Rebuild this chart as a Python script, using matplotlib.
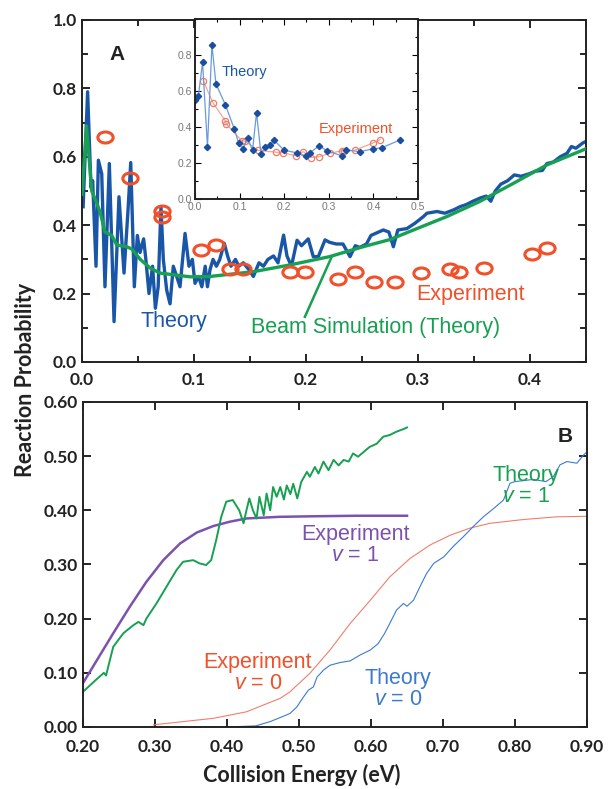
import numpy as np
import matplotlib.pyplot as plt
import matplotlib.path as mpath
from matplotlib.transforms import Affine2D
from matplotlib.ticker import MultipleLocator, FormatStrFormatter

# ---------------- panel A data ----------------
a_theory_x = [0.001, 0.005, 0.008, 0.0095, 0.0125, 0.0146, 0.0176, 0.0205, 0.0244, 0.0286,
              0.033, 0.0375, 0.041, 0.0435, 0.0467, 0.0494, 0.0518, 0.055, 0.057, 0.0598,
              0.063, 0.0655, 0.068, 0.0705, 0.0726, 0.0756, 0.0786, 0.0815, 0.0845, 0.0875,
              0.092, 0.0955, 0.0985, 0.1009, 0.104, 0.107, 0.110, 0.112, 0.1143, 0.117,
              0.120, 0.123, 0.127, 0.130, 0.133, 0.137, 0.140, 0.144, 0.149, 0.153,
              0.158, 0.162, 0.166, 0.171, 0.175, 0.180, 0.183, 0.187, 0.192, 0.196,
              0.202, 0.2065, 0.211, 0.217, 0.221, 0.227, 0.233, 0.2393, 0.244, 0.248,
              0.254, 0.258, 0.269, 0.274, 0.278, 0.282, 0.290, 0.297, 0.3048, 0.308,
              0.317, 0.324, 0.332, 0.3375, 0.343, 0.349, 0.356, 0.361, 0.365, 0.369,
              0.374, 0.380, 0.386, 0.392, 0.399, 0.405, 0.411, 0.415, 0.421, 0.427,
              0.433, 0.437, 0.441, 0.447, 0.45]
a_theory_y = [0.454, 0.79, 0.51, 0.53, 0.28, 0.59, 0.55, 0.22, 0.58, 0.118,
              0.483, 0.26, 0.44, 0.583, 0.22, 0.37, 0.32, 0.36, 0.30, 0.20,
              0.28, 0.157, 0.22, 0.454, 0.30, 0.21, 0.17, 0.28, 0.25, 0.22,
              0.376, 0.28, 0.30, 0.23, 0.25, 0.22, 0.28, 0.22, 0.27, 0.30,
              0.28, 0.30, 0.347, 0.31, 0.28, 0.30, 0.28, 0.29, 0.27, 0.25,
              0.29, 0.28, 0.30, 0.31, 0.29, 0.371, 0.31, 0.28, 0.356, 0.34,
              0.36, 0.308, 0.308, 0.357, 0.35, 0.345, 0.345, 0.308, 0.34, 0.335,
              0.345, 0.37, 0.386, 0.38, 0.337, 0.386, 0.39, 0.405, 0.425, 0.435,
              0.44, 0.435, 0.445, 0.454, 0.46, 0.47, 0.48, 0.485, 0.47, 0.50,
              0.52, 0.53, 0.547, 0.543, 0.55, 0.558, 0.56, 0.58, 0.585, 0.60,
              0.61, 0.63, 0.625, 0.64, 0.645]

a_beam_x = [0.0, 0.004, 0.0087, 0.0125, 0.016, 0.0205, 0.0265, 0.031, 0.040, 0.0446,
            0.052, 0.0607, 0.0696, 0.082, 0.0964, 0.114, 0.153, 0.186, 0.221, 0.251,
            0.275, 0.296, 0.3256, 0.355, 0.385, 0.415, 0.449]
a_beam_y = [0.49, 0.69, 0.50, 0.47, 0.44, 0.38, 0.37, 0.342, 0.337, 0.33,
            0.30, 0.275, 0.26, 0.255, 0.249, 0.25, 0.264, 0.284, 0.308, 0.337,
            0.358, 0.386, 0.425, 0.469, 0.522, 0.576, 0.622]

a_exp_x = [0.0205, 0.043, 0.071, 0.071, 0.106, 0.12, 0.132, 0.144, 0.186, 0.199,
           0.2285, 0.244, 0.261, 0.2795, 0.3025, 0.329, 0.3366, 0.359, 0.402, 0.415]
a_exp_y = [0.658, 0.538, 0.44, 0.425, 0.327, 0.342, 0.272, 0.272, 0.263, 0.263,
           0.242, 0.264, 0.235, 0.235, 0.261, 0.271, 0.264, 0.274, 0.315, 0.333]

# inset data
in_theory_x = [0.0, 0.0075, 0.017, 0.028, 0.038, 0.047, 0.068, 0.088, 0.098, 0.108,
               0.118, 0.129, 0.138, 0.148, 0.158, 0.168, 0.178, 0.20, 0.228, 0.248,
               0.258, 0.278, 0.297, 0.329, 0.339, 0.37, 0.398, 0.419, 0.46]
in_theory_y = [0.55, 0.57, 0.76, 0.29, 0.855, 0.64, 0.524, 0.39, 0.31, 0.28,
               0.34, 0.27, 0.48, 0.248, 0.29, 0.30, 0.325, 0.27, 0.257, 0.24,
               0.257, 0.295, 0.267, 0.24, 0.272, 0.263, 0.278, 0.285, 0.328]
in_exp_x = [0.019, 0.04, 0.068, 0.07, 0.105, 0.113, 0.142, 0.182, 0.198, 0.226,
            0.243, 0.259, 0.278, 0.303, 0.329, 0.334, 0.359, 0.398, 0.415]
in_exp_y = [0.655, 0.535, 0.435, 0.417, 0.324, 0.32, 0.27, 0.26, 0.257, 0.24,
            0.263, 0.23, 0.235, 0.254, 0.268, 0.265, 0.272, 0.31, 0.33]

# ---------------- panel B data ----------------
b_exp1_x = [0.20, 0.242, 0.265, 0.288, 0.3115, 0.335, 0.358, 0.381, 0.404, 0.427,
            0.473, 0.52, 0.58, 0.65]
b_exp1_y = [0.081, 0.173, 0.222, 0.268, 0.308, 0.339, 0.359, 0.371, 0.379, 0.385,
            0.388, 0.389, 0.39, 0.39]

b_th1_x = [0.20, 0.218, 0.229, 0.232, 0.242, 0.256, 0.27, 0.277, 0.284, 0.288,
           0.302, 0.316, 0.33, 0.339, 0.353, 0.362, 0.371, 0.378, 0.385, 0.392,
           0.399, 0.408, 0.417, 0.423, 0.427, 0.431, 0.436, 0.441, 0.445, 0.451,
           0.455, 0.46, 0.464, 0.469, 0.474, 0.479, 0.483, 0.488, 0.492, 0.4976,
           0.503, 0.511, 0.515, 0.522, 0.527, 0.534, 0.541, 0.548, 0.555, 0.562,
           0.569, 0.575, 0.582, 0.59, 0.598, 0.608, 0.617, 0.626, 0.635, 0.647, 0.65]
b_th1_y = [0.065, 0.087, 0.10, 0.095, 0.148, 0.173, 0.188, 0.194, 0.188, 0.20,
           0.228, 0.259, 0.29, 0.305, 0.308, 0.302, 0.299, 0.308, 0.345, 0.388,
           0.416, 0.419, 0.40, 0.376, 0.40, 0.422, 0.40, 0.385, 0.425, 0.391,
           0.431, 0.40, 0.443, 0.425, 0.443, 0.42, 0.446, 0.43, 0.449, 0.422,
           0.452, 0.471, 0.462, 0.48, 0.468, 0.49, 0.474, 0.493, 0.483, 0.493,
           0.49, 0.505, 0.499, 0.508, 0.517, 0.523, 0.536, 0.539, 0.545, 0.551, 0.553]

b_exp0_x = [0.298, 0.381, 0.427, 0.474, 0.4875, 0.515, 0.543, 0.571, 0.599, 0.626,
            0.654, 0.682, 0.71, 0.737, 0.765, 0.8115, 0.858, 0.90]
b_exp0_y = [0.004, 0.016, 0.028, 0.053, 0.065, 0.099, 0.142, 0.191, 0.234, 0.277,
            0.311, 0.336, 0.354, 0.367, 0.376, 0.383, 0.388, 0.389]

b_th0_x = [0.40, 0.44, 0.46, 0.475, 0.4875, 0.497, 0.506, 0.513, 0.52, 0.525,
           0.534, 0.543, 0.557, 0.571, 0.585, 0.599, 0.61, 0.619, 0.626, 0.6355,
           0.645, 0.65, 0.659, 0.668, 0.677, 0.687, 0.701, 0.714, 0.728, 0.742,
           0.756, 0.77, 0.784, 0.793, 0.80, 0.825, 0.843, 0.853, 0.8625, 0.872,
           0.886, 0.895, 0.90]
b_th0_y = [0.0, 0.002, 0.01, 0.018, 0.025, 0.037, 0.055, 0.068, 0.074, 0.092,
           0.105, 0.114, 0.119, 0.122, 0.133, 0.142, 0.154, 0.173, 0.191, 0.216,
           0.228, 0.223, 0.234, 0.259, 0.283, 0.302, 0.314, 0.333, 0.351, 0.37,
           0.388, 0.403, 0.419, 0.45, 0.453, 0.457, 0.453, 0.462, 0.484, 0.49,
           0.487, 0.502, 0.508]

plt.rcParams['font.family'] = ['Liberation Sans', 'DejaVu Sans']
plt.rcParams['mathtext.fontset'] = 'custom'
plt.rcParams['mathtext.it'] = 'Liberation Sans:italic'

c_blue = '#1a56a8'
c_green = '#17a052'
c_orange = '#f0502a'
c_purple = '#7b52b0'
c_lblue = '#3c7ad0'
c_salmon = '#f27d6c'

# oval marker for experimental points
oval = mpath.Path.unit_circle().transformed(Affine2D().scale(1.0, 0.72))

fig = plt.figure(figsize=(6.08, 7.89), dpi=100)


def style_axes(ax, xpad=7, lw=1.4):
    ax.tick_params(which='both', direction='in', top=True, right=True, width=1.2)
    ax.tick_params(which='major', length=6)
    ax.tick_params(which='minor', length=4)
    ax.tick_params(axis='x', pad=xpad)
    for s in ax.spines.values():
        s.set_linewidth(lw)
        s.set_color('#222222')
    for lab in ax.get_xticklabels() + ax.get_yticklabels():
        lab.set_fontfamily('Lato')
        lab.set_fontweight('bold')
        lab.set_fontsize(12.5)
        lab.set_color('#222222')


# ---------------- panel A ----------------
axA = fig.add_axes([0.1349, 0.5412, 0.8289, 0.4335])
axA.plot(a_theory_x, a_theory_y, color=c_blue, lw=2.4, zorder=2)
axA.plot(a_beam_x, a_beam_y, color=c_green, lw=2.4, zorder=3)
axA.plot(a_exp_x, a_exp_y, ls='none', marker=oval, ms=11, mfc='none',
         mec=c_orange, mew=2.2, zorder=4)
axA.set_xlim(0, 0.45)
axA.set_ylim(0, 1.0)
axA.xaxis.set_major_locator(MultipleLocator(0.1))
axA.xaxis.set_minor_locator(MultipleLocator(0.05))
axA.yaxis.set_major_locator(MultipleLocator(0.2))
axA.yaxis.set_minor_locator(MultipleLocator(0.1))
axA.xaxis.set_major_formatter(FormatStrFormatter('%.1f'))
axA.yaxis.set_major_formatter(FormatStrFormatter('%.1f'))
style_axes(axA, xpad=7)

axA.text(0.031, 0.90, 'A', fontsize=15, fontweight='bold', ha='center', va='center',
         color='#222222')
axA.text(0.082, 0.117, 'Theory', color=c_blue, fontsize=15.5, ha='center', va='center')
axA.text(0.347, 0.196, 'Experiment', color=c_orange, fontsize=15.5, ha='center', va='center')
axA.text(0.2625, 0.100, 'Beam Simulation (Theory)', color=c_green, fontsize=15.5,
         ha='center', va='center')
axA.plot([0.223, 0.199], [0.308, 0.132], color=c_green, lw=1.8)

# inset
axI = fig.add_axes([0.3207, 0.7478, 0.3668, 0.2281])
axI.plot(in_exp_x, in_exp_y, color='#f5a595', lw=0.9, marker='o', ms=4.5,
         mfc='none', mec='#f27a68', mew=0.9)
axI.plot(in_theory_x, in_theory_y, color='#6a9ade', lw=0.9, marker='D', ms=3.2,
         mfc='#1a4fa0', mec='#1a4fa0')
axI.set_xlim(0, 0.5)
axI.set_ylim(0, 1.0)
axI.set_yticks([0.0, 0.2, 0.4, 0.6, 0.8])
axI.xaxis.set_major_locator(MultipleLocator(0.1))
axI.xaxis.set_minor_locator(MultipleLocator(0.05))
axI.yaxis.set_minor_locator(MultipleLocator(0.1))
axI.xaxis.set_major_formatter(FormatStrFormatter('%.1f'))
axI.yaxis.set_major_formatter(FormatStrFormatter('%.1f'))
axI.tick_params(which='both', direction='in', top=True, right=True, width=0.8,
                labelsize=7.5, labelcolor='#777777', pad=2)
axI.tick_params(which='major', length=4)
axI.tick_params(which='minor', length=2.5)
for s in axI.spines.values():
    s.set_linewidth(1.4)
    s.set_color('#222222')
axI.text(0.06, 0.705, 'Theory', color=c_blue, fontsize=10.5, ha='left', va='center')
axI.text(0.36, 0.39, 'Experiment', color=c_orange, fontsize=10.5, ha='center', va='center')

# ---------------- panel B ----------------
axB = fig.add_axes([0.1365, 0.0786, 0.829, 0.4119])
axB.plot(b_exp0_x, b_exp0_y, color=c_salmon, lw=0.8)
axB.plot(b_th0_x, b_th0_y, color=c_lblue, lw=0.8)
axB.plot(b_exp1_x, b_exp1_y, color=c_purple, lw=1.8)
axB.plot(b_th1_x, b_th1_y, color=c_green, lw=1.4)
axB.set_xlim(0.2, 0.9)
axB.set_ylim(0, 0.6)
axB.xaxis.set_major_locator(MultipleLocator(0.1))
axB.yaxis.set_major_locator(MultipleLocator(0.1))
axB.xaxis.set_major_formatter(FormatStrFormatter('%.2f'))
axB.yaxis.set_major_formatter(FormatStrFormatter('%.2f'))
style_axes(axB, xpad=9)

axB.text(0.869, 0.537, 'B', fontsize=15, fontweight='bold', ha='center', va='center',
         color='#222222')
axB.text(0.815, 0.445, 'Theory\n$\\it{v}$ = 1', color=c_green, fontsize=15.5,
         ha='center', va='center', linespacing=1.0)
axB.text(0.578, 0.336, 'Experiment\n$\\it{v}$ = 1', color=c_purple, fontsize=15.5,
         ha='center', va='center', linespacing=1.0)
axB.text(0.443, 0.10, 'Experiment\n$\\it{v}$ = 0', color=c_orange, fontsize=15.5,
         ha='center', va='center', linespacing=1.0)
axB.text(0.638, 0.07, 'Theory\n$\\it{v}$ = 0', color=c_lblue, fontsize=15.5,
         ha='center', va='center', linespacing=1.0)

fig.text(0.042, 0.518, 'Reaction Probability', rotation=90, ha='center', va='center',
         fontfamily='Lato', fontweight='bold', fontsize=15.5, color='#222222')
fig.text(0.497, 0.018, 'Collision Energy (eV)', ha='center', va='center',
         fontfamily='Lato', fontweight='bold', fontsize=15.5, color='#222222')

fig.savefig('out.png', dpi=100)
